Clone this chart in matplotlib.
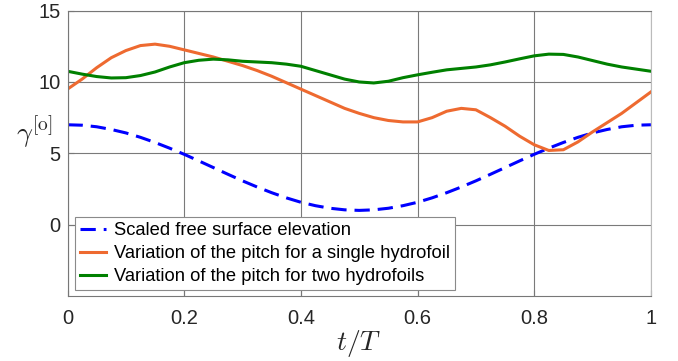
import matplotlib
matplotlib.use('Agg')
import matplotlib.pyplot as plt

plt.rcParams['font.family'] = ['Liberation Sans', 'DejaVu Sans']
plt.rcParams['mathtext.fontset'] = 'cm'

# t/T sample positions
t = [0.0, 0.025, 0.05, 0.075, 0.1, 0.125, 0.15, 0.175, 0.2, 0.225, 0.25,
     0.275, 0.3, 0.325, 0.35, 0.375, 0.4, 0.425, 0.45, 0.475, 0.5,
     0.525, 0.55, 0.575, 0.6, 0.625, 0.65, 0.675, 0.7, 0.725, 0.75,
     0.775, 0.8, 0.825, 0.85, 0.875, 0.9, 0.925, 0.95, 0.975, 1.0]

# scaled free surface elevation
surface = [7.0, 6.97, 6.86, 6.67, 6.43, 6.12, 5.76, 5.36, 4.93, 4.47, 4.0,
           3.53, 3.07, 2.64, 2.24, 1.88, 1.57, 1.33, 1.15, 1.04, 1.0,
           1.04, 1.15, 1.33, 1.57, 1.88, 2.24, 2.64, 3.07, 3.53, 4.0,
           4.47, 4.93, 5.36, 5.76, 6.12, 6.43, 6.67, 6.86, 6.97, 7.0]

# pitch, single hydrofoil
single = [9.5, 10.2, 11.0, 11.7, 12.2, 12.55, 12.65, 12.5, 12.25, 12.0, 11.75,
          11.45, 11.15, 10.8, 10.4, 9.95, 9.5, 9.05, 8.6, 8.15, 7.8,
          7.5, 7.3, 7.2, 7.2, 7.5, 7.95, 8.15, 8.05, 7.5, 6.9,
          6.2, 5.6, 5.2, 5.25, 5.8, 6.5, 7.15, 7.8, 8.55, 9.3]

# pitch, two hydrofoils
double = [10.75, 10.55, 10.38, 10.28, 10.3, 10.45, 10.7, 11.05, 11.35, 11.52, 11.6,
          11.55, 11.45, 11.4, 11.35, 11.25, 11.1, 10.8, 10.5, 10.2, 10.0,
          9.93, 10.05, 10.3, 10.5, 10.68, 10.85, 10.95, 11.05, 11.2, 11.4,
          11.62, 11.83, 11.95, 11.93, 11.75, 11.5, 11.25, 11.05, 10.9, 10.75]

labels = ['Scaled free surface elevation',
          'Variation of the pitch for a single hydrofoil',
          'Variation of the pitch for two hydrofoils']

fig = plt.figure(figsize=(6.78, 3.61), dpi=100)
ax = fig.add_axes([0.0996, 0.18, 0.8604, 0.7906])

ax.plot(t, surface, color='#0000ff', lw=2.2, dashes=(5, 2.6), label=labels[0])
ax.plot(t, single, color='#ee6a30', lw=2.2, label=labels[1])
ax.plot(t, double, color='#008000', lw=2.2, label=labels[2])

ax.set_xlim(0, 1)
ax.set_ylim(-5, 15)
ax.set_xticks([0, 0.2, 0.4, 0.6, 0.8, 1])
ax.set_xticklabels(['0', '0.2', '0.4', '0.6', '0.8', '1'])
ax.set_yticks([0, 5, 10, 15])
ax.grid(True, color='#7a7a7a', lw=0.8)
ax.set_axisbelow(True)
ax.tick_params(direction='in', length=4, width=0.8, color='#777777',
               labelsize=14.5, labelcolor='#262626')
ax.tick_params(axis='x', pad=9)
ax.tick_params(axis='y', pad=5)
for s in ax.spines.values():
    s.set_color('#777777')
    s.set_linewidth(0.8)
ax.spines['right'].set_color('#bbbbbb')

ax.set_xlabel(r'$t/T$', fontsize=20, color='#262626', labelpad=0)
ax.set_ylabel(r'$\gamma^{[\mathrm{o}]}$', fontsize=20, rotation=0,
              color='#262626', va='center', ha='center')
ax.yaxis.set_label_coords(-0.057, 0.575)

leg = ax.legend(loc='lower left', bbox_to_anchor=(0.013, 0.021),
                borderaxespad=0, fontsize=13.2, fancybox=False,
                framealpha=1, edgecolor='#8a8a8a', handlelength=1.4,
                handletextpad=0.45, labelspacing=0.33, borderpad=0.27)
leg.get_frame().set_linewidth(0.8)

fig.savefig('out.png', dpi=100)
